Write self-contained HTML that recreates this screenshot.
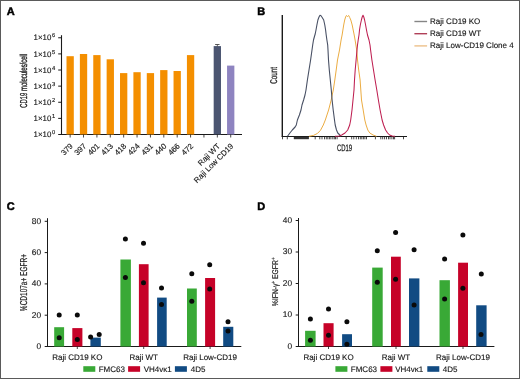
<!DOCTYPE html>
<html><head><meta charset="utf-8"><style>
html,body{margin:0;padding:0;background:#fff;}
svg{display:block;will-change:transform;}
</style></head><body>
<svg width="520" height="379" viewBox="0 0 520 379" font-family='"Liberation Sans", sans-serif' text-rendering='geometricPrecision'>
<rect x="0" y="0" width="520" height="379" fill="#fff"/>
<text x="6.8" y="14.6" font-size="11" font-weight="bold" fill="#000" stroke="#000" stroke-width="0.5">A</text>
<text x="257.2" y="14.6" font-size="11" font-weight="bold" fill="#000" stroke="#000" stroke-width="0.5">B</text>
<text x="6.8" y="210.4" font-size="11" font-weight="bold" fill="#000" stroke="#000" stroke-width="0.5">C</text>
<text x="257.2" y="210.3" font-size="11" font-weight="bold" fill="#000" stroke="#000" stroke-width="0.5">D</text>
<line x1="61.5" y1="35.2" x2="61.5" y2="134.5" stroke="#1a1a1a" stroke-width="1.1"/>
<line x1="61.0" y1="134.5" x2="242" y2="134.5" stroke="#1a1a1a" stroke-width="1"/>
<line x1="58.2" y1="134.50" x2="61.5" y2="134.50" stroke="#1a1a1a" stroke-width="1"/>
<text x="51.3" y="137.10" font-size="7.9" text-anchor="end" fill="#151515" stroke="#151515" stroke-width="0.13">1×10</text>
<text x="52" y="134.20" font-size="5.8" fill="#151515" stroke="#151515" stroke-width="0.13">0</text>
<line x1="58.2" y1="118.38" x2="61.5" y2="118.38" stroke="#1a1a1a" stroke-width="1"/>
<text x="51.3" y="120.98" font-size="7.9" text-anchor="end" fill="#151515" stroke="#151515" stroke-width="0.13">1×10</text>
<text x="52" y="118.08" font-size="5.8" fill="#151515" stroke="#151515" stroke-width="0.13">1</text>
<line x1="58.2" y1="102.26" x2="61.5" y2="102.26" stroke="#1a1a1a" stroke-width="1"/>
<text x="51.3" y="104.86" font-size="7.9" text-anchor="end" fill="#151515" stroke="#151515" stroke-width="0.13">1×10</text>
<text x="52" y="101.96" font-size="5.8" fill="#151515" stroke="#151515" stroke-width="0.13">2</text>
<line x1="58.2" y1="86.14" x2="61.5" y2="86.14" stroke="#1a1a1a" stroke-width="1"/>
<text x="51.3" y="88.74" font-size="7.9" text-anchor="end" fill="#151515" stroke="#151515" stroke-width="0.13">1×10</text>
<text x="52" y="85.84" font-size="5.8" fill="#151515" stroke="#151515" stroke-width="0.13">3</text>
<line x1="58.2" y1="70.02" x2="61.5" y2="70.02" stroke="#1a1a1a" stroke-width="1"/>
<text x="51.3" y="72.62" font-size="7.9" text-anchor="end" fill="#151515" stroke="#151515" stroke-width="0.13">1×10</text>
<text x="52" y="69.72" font-size="5.8" fill="#151515" stroke="#151515" stroke-width="0.13">4</text>
<line x1="58.2" y1="53.90" x2="61.5" y2="53.90" stroke="#1a1a1a" stroke-width="1"/>
<text x="51.3" y="56.50" font-size="7.9" text-anchor="end" fill="#151515" stroke="#151515" stroke-width="0.13">1×10</text>
<text x="52" y="53.60" font-size="5.8" fill="#151515" stroke="#151515" stroke-width="0.13">5</text>
<line x1="58.2" y1="37.78" x2="61.5" y2="37.78" stroke="#1a1a1a" stroke-width="1"/>
<text x="51.3" y="40.38" font-size="7.9" text-anchor="end" fill="#151515" stroke="#151515" stroke-width="0.13">1×10</text>
<text x="52" y="37.48" font-size="5.8" fill="#151515" stroke="#151515" stroke-width="0.13">6</text>
<rect x="66.50" y="56.2" width="7.3" height="78.30" fill="#F48F00"/>
<line x1="70.15" y1="134.5" x2="70.15" y2="137.5" stroke="#1a1a1a" stroke-width="0.8"/>
<text x="73.35" y="146.6" font-size="7.8" text-anchor="end" fill="#151515" stroke="#151515" stroke-width="0.13" transform="rotate(-45 73.35 146.6)">379</text>
<rect x="79.88" y="54" width="7.3" height="80.50" fill="#F48F00"/>
<line x1="83.53" y1="134.5" x2="83.53" y2="137.5" stroke="#1a1a1a" stroke-width="0.8"/>
<text x="86.73" y="146.6" font-size="7.8" text-anchor="end" fill="#151515" stroke="#151515" stroke-width="0.13" transform="rotate(-45 86.73 146.6)">397</text>
<rect x="93.26" y="55.1" width="7.3" height="79.40" fill="#F48F00"/>
<line x1="96.91" y1="134.5" x2="96.91" y2="137.5" stroke="#1a1a1a" stroke-width="0.8"/>
<text x="100.11" y="146.6" font-size="7.8" text-anchor="end" fill="#151515" stroke="#151515" stroke-width="0.13" transform="rotate(-45 100.11 146.6)">401</text>
<rect x="106.64" y="59.3" width="7.3" height="75.20" fill="#F48F00"/>
<line x1="110.29" y1="134.5" x2="110.29" y2="137.5" stroke="#1a1a1a" stroke-width="0.8"/>
<text x="113.49" y="146.6" font-size="7.8" text-anchor="end" fill="#151515" stroke="#151515" stroke-width="0.13" transform="rotate(-45 113.49 146.6)">413</text>
<rect x="120.02" y="73.1" width="7.3" height="61.40" fill="#F48F00"/>
<line x1="123.67" y1="134.5" x2="123.67" y2="137.5" stroke="#1a1a1a" stroke-width="0.8"/>
<text x="126.87" y="146.6" font-size="7.8" text-anchor="end" fill="#151515" stroke="#151515" stroke-width="0.13" transform="rotate(-45 126.87 146.6)">418</text>
<rect x="133.40" y="72.2" width="7.3" height="62.30" fill="#F48F00"/>
<line x1="137.05" y1="134.5" x2="137.05" y2="137.5" stroke="#1a1a1a" stroke-width="0.8"/>
<text x="140.25" y="146.6" font-size="7.8" text-anchor="end" fill="#151515" stroke="#151515" stroke-width="0.13" transform="rotate(-45 140.25 146.6)">424</text>
<rect x="146.78" y="73.1" width="7.3" height="61.40" fill="#F48F00"/>
<line x1="150.43" y1="134.5" x2="150.43" y2="137.5" stroke="#1a1a1a" stroke-width="0.8"/>
<text x="153.63" y="146.6" font-size="7.8" text-anchor="end" fill="#151515" stroke="#151515" stroke-width="0.13" transform="rotate(-45 153.63 146.6)">431</text>
<rect x="160.16" y="70.1" width="7.3" height="64.40" fill="#F48F00"/>
<line x1="163.81" y1="134.5" x2="163.81" y2="137.5" stroke="#1a1a1a" stroke-width="0.8"/>
<text x="167.01" y="146.6" font-size="7.8" text-anchor="end" fill="#151515" stroke="#151515" stroke-width="0.13" transform="rotate(-45 167.01 146.6)">440</text>
<rect x="173.54" y="71" width="7.3" height="63.50" fill="#F48F00"/>
<line x1="177.19" y1="134.5" x2="177.19" y2="137.5" stroke="#1a1a1a" stroke-width="0.8"/>
<text x="180.39" y="146.6" font-size="7.8" text-anchor="end" fill="#151515" stroke="#151515" stroke-width="0.13" transform="rotate(-45 180.39 146.6)">466</text>
<rect x="186.92" y="55.1" width="7.3" height="79.40" fill="#F48F00"/>
<line x1="190.57" y1="134.5" x2="190.57" y2="137.5" stroke="#1a1a1a" stroke-width="0.8"/>
<text x="193.77" y="146.6" font-size="7.8" text-anchor="end" fill="#151515" stroke="#151515" stroke-width="0.13" transform="rotate(-45 193.77 146.6)">472</text>
<line x1="203.95" y1="134.5" x2="203.95" y2="137.5" stroke="#1a1a1a" stroke-width="0.8"/>
<rect x="213.68" y="46.1" width="7.3" height="88.40" fill="#4B5571"/>
<line x1="217.33" y1="134.5" x2="217.33" y2="137.5" stroke="#1a1a1a" stroke-width="0.8"/>
<text x="220.53" y="146.6" font-size="7.8" text-anchor="end" fill="#151515" stroke="#151515" stroke-width="0.13" transform="rotate(-45 220.53 146.6)">Raji WT</text>
<rect x="227.06" y="65.6" width="7.3" height="68.90" fill="#8E84C0"/>
<line x1="230.71" y1="134.5" x2="230.71" y2="137.5" stroke="#1a1a1a" stroke-width="0.8"/>
<text x="233.91" y="146.6" font-size="7.8" text-anchor="end" fill="#151515" stroke="#151515" stroke-width="0.13" transform="rotate(-45 233.91 146.6)">Raji Low CD19</text>
<line x1="217.33" y1="44.5" x2="217.33" y2="46.5" stroke="#444" stroke-width="0.8"/>
<line x1="215.13" y1="44.5" x2="219.53" y2="44.5" stroke="#444" stroke-width="0.9"/>
<text transform="translate(26.8 80.8) rotate(-90) scale(0.59 1)" x="0" y="0" font-size="10" text-anchor="middle" fill="#222" stroke="#222" stroke-width="0.35">CD19 molecules/cell</text>
<line x1="282.3" y1="15" x2="282.3" y2="136.5" stroke="#1a1a1a" stroke-width="1.4"/>
<line x1="281.6" y1="136.5" x2="407" y2="136.5" stroke="#1a1a1a" stroke-width="1.2"/>
<rect x="293.8" y="136.9" width="15.1" height="2.3" fill="#333"/>
<line x1="282.5" y1="136.5" x2="282.5" y2="139.3" stroke="#1a1a1a" stroke-width="0.8"/>
<line x1="287.3" y1="136.5" x2="287.3" y2="139.3" stroke="#1a1a1a" stroke-width="0.8"/>
<line x1="315.2" y1="136.5" x2="315.2" y2="139.3" stroke="#1a1a1a" stroke-width="0.8"/>
<line x1="319.8" y1="136.5" x2="319.8" y2="139.3" stroke="#1a1a1a" stroke-width="0.8"/>
<line x1="322" y1="136.5" x2="322" y2="139.3" stroke="#1a1a1a" stroke-width="0.8"/>
<line x1="324.5" y1="136.5" x2="324.5" y2="139.3" stroke="#1a1a1a" stroke-width="0.8"/>
<line x1="326.3" y1="136.5" x2="326.3" y2="139.3" stroke="#1a1a1a" stroke-width="0.8"/>
<line x1="327.8" y1="136.5" x2="327.8" y2="139.3" stroke="#1a1a1a" stroke-width="0.8"/>
<line x1="329.4" y1="136.5" x2="329.4" y2="139.3" stroke="#1a1a1a" stroke-width="0.8"/>
<line x1="330.9" y1="136.5" x2="330.9" y2="139.3" stroke="#1a1a1a" stroke-width="0.8"/>
<line x1="332.8" y1="136.5" x2="332.8" y2="139.3" stroke="#1a1a1a" stroke-width="0.8"/>
<line x1="334.3" y1="136.5" x2="334.3" y2="139.3" stroke="#1a1a1a" stroke-width="0.8"/>
<line x1="335.5" y1="136.5" x2="335.5" y2="139.3" stroke="#1a1a1a" stroke-width="0.8"/>
<line x1="337.1" y1="136.5" x2="337.1" y2="139.3" stroke="#1a1a1a" stroke-width="0.8"/>
<line x1="346.2" y1="136.5" x2="346.2" y2="139.3" stroke="#1a1a1a" stroke-width="0.8"/>
<line x1="351.7" y1="136.5" x2="351.7" y2="139.3" stroke="#1a1a1a" stroke-width="0.8"/>
<line x1="353.8" y1="136.5" x2="353.8" y2="139.3" stroke="#1a1a1a" stroke-width="0.8"/>
<line x1="356.3" y1="136.5" x2="356.3" y2="139.3" stroke="#1a1a1a" stroke-width="0.8"/>
<line x1="358.5" y1="136.5" x2="358.5" y2="139.3" stroke="#1a1a1a" stroke-width="0.8"/>
<line x1="360.3" y1="136.5" x2="360.3" y2="139.3" stroke="#1a1a1a" stroke-width="0.8"/>
<line x1="361.8" y1="136.5" x2="361.8" y2="139.3" stroke="#1a1a1a" stroke-width="0.8"/>
<line x1="363.4" y1="136.5" x2="363.4" y2="139.3" stroke="#1a1a1a" stroke-width="0.8"/>
<line x1="364.9" y1="136.5" x2="364.9" y2="139.3" stroke="#1a1a1a" stroke-width="0.8"/>
<line x1="366.5" y1="136.5" x2="366.5" y2="139.3" stroke="#1a1a1a" stroke-width="0.8"/>
<line x1="375.4" y1="136.5" x2="375.4" y2="139.3" stroke="#1a1a1a" stroke-width="0.8"/>
<line x1="380.8" y1="136.5" x2="380.8" y2="139.3" stroke="#1a1a1a" stroke-width="0.8"/>
<line x1="382.7" y1="136.5" x2="382.7" y2="139.3" stroke="#1a1a1a" stroke-width="0.8"/>
<line x1="384.6" y1="136.5" x2="384.6" y2="139.3" stroke="#1a1a1a" stroke-width="0.8"/>
<line x1="386.5" y1="136.5" x2="386.5" y2="139.3" stroke="#1a1a1a" stroke-width="0.8"/>
<line x1="388.5" y1="136.5" x2="388.5" y2="139.3" stroke="#1a1a1a" stroke-width="0.8"/>
<line x1="390" y1="136.5" x2="390" y2="139.3" stroke="#1a1a1a" stroke-width="0.8"/>
<line x1="391.9" y1="136.5" x2="391.9" y2="139.3" stroke="#1a1a1a" stroke-width="0.8"/>
<line x1="393.5" y1="136.5" x2="393.5" y2="139.3" stroke="#1a1a1a" stroke-width="0.8"/>
<line x1="394.6" y1="136.5" x2="394.6" y2="139.3" stroke="#1a1a1a" stroke-width="0.8"/>
<line x1="403.5" y1="136.5" x2="403.5" y2="139.3" stroke="#1a1a1a" stroke-width="0.8"/>
<text transform="translate(344.5 150.8) scale(0.64 1)" x="0" y="0" font-size="9.3" text-anchor="middle" fill="#222" stroke="#222" stroke-width="0.25">CD19</text>
<text transform="translate(276.9 75.3) rotate(-90) scale(0.64 1)" x="0" y="0" font-size="9.8" text-anchor="middle" fill="#222" stroke="#222" stroke-width="0.3">Count</text>
<path d="M309,136.3 L313.5,135.4 L317.5,133.4 L320.5,130.3 L323.3,125 L325.3,120 L328.6,110 L331.2,100 L332.2,95 L333.3,90 L334.8,80 L336.2,70 L337.5,60 L339.5,50 L340.3,45 L341.1,40 L342.1,35 L342.9,30 L343.7,25 L344.7,20 L345.6,17 L346.4,15.5 L347.5,16.5 L348.7,15.5 L349.7,17.5 L350.8,20 L352.2,25 L353.2,30 L354.2,35 L355.1,40 L355.9,45 L356.7,50 L357.5,60 L358.7,70 L360.1,80 L360.8,90 L361.5,100 L363.2,110 L364.8,120 L366.1,125 L367.8,130 L369.8,133 L373.1,135 L376.4,136.3" fill="none" stroke="#EAA838" stroke-width="0.95" stroke-linejoin="round"/>
<path d="M287.5,136.3 L289.9,133 L292.3,130 L295.1,127 L296.3,125 L297.4,120 L299.4,115 L301,110 L302,105 L303.6,100 L305,95 L306,90 L307.4,80 L309,70 L310.6,60 L312,50 L312.7,45 L313.5,40 L314.6,36 L315.2,34 L316,30 L316.9,25 L317.9,20 L319,17 L320,15.3 L321,15.8 L322.2,17.5 L323.7,20 L324.8,25 L325.6,30 L326.2,35 L326.9,40 L327.7,45 L328,50 L328.5,60 L329.3,70 L330.3,80 L331.3,90 L332.1,100 L333.2,110 L334.5,120 L335.2,125 L336.5,130 L337.8,133 L339.8,135 L341,136.3" fill="none" stroke="#485064" stroke-width="1.1" stroke-linejoin="round"/>
<path d="M335,136.3 L339,136 L341.7,135 L345,133 L347.7,130 L349.7,125 L350.7,120 L352,110 L353,100 L354,90 L354.5,80 L355.2,70 L356.1,60 L357,50 L357.5,45 L358.2,40 L359,35 L359.5,30 L360.3,25 L361.4,20 L362.2,17 L363,15.3 L363.8,17 L364.6,20 L365.6,25 L366.5,30 L367.5,35 L369,40 L370,45 L370.6,50 L371.9,60 L373.5,70 L375.1,80 L376.8,90 L378.4,100 L380.1,110 L382.1,120 L383.6,125 L385.6,130 L387.6,133 L389.6,135 L392.2,136 L395,136.3" fill="none" stroke="#BE1E50" stroke-width="1.05" stroke-linejoin="round"/>
<line x1="414.4" y1="21.5" x2="427.1" y2="21.5" stroke="#858585" stroke-width="1.4"/>
<text x="430.1" y="24.0" font-size="8" fill="#151515" stroke="#151515" stroke-width="0.13">Raji CD19 KO</text>
<line x1="414.4" y1="33.7" x2="427.1" y2="33.7" stroke="#B04058" stroke-width="1.4"/>
<text x="430.1" y="36.2" font-size="8" fill="#151515" stroke="#151515" stroke-width="0.13">Raji CD19 WT</text>
<line x1="414.4" y1="45.9" x2="427.1" y2="45.9" stroke="#EDC08A" stroke-width="1.4"/>
<text x="430.1" y="48.4" font-size="8" fill="#151515" stroke="#151515" stroke-width="0.13">Raji Low-CD19 Clone 4</text>
<line x1="47.5" y1="218.2" x2="47.5" y2="346.5" stroke="#1a1a1a" stroke-width="1"/>
<line x1="47.0" y1="346.5" x2="241.3" y2="346.5" stroke="#1a1a1a" stroke-width="1"/>
<line x1="44.7" y1="346.50" x2="47.5" y2="346.50" stroke="#1a1a1a" stroke-width="1"/>
<text x="41.1" y="348.80" font-size="8.3" text-anchor="end" fill="#151515" stroke="#151515" stroke-width="0.13">0</text>
<line x1="44.7" y1="315.20" x2="47.5" y2="315.20" stroke="#1a1a1a" stroke-width="1"/>
<text x="41.1" y="317.50" font-size="8.3" text-anchor="end" fill="#151515" stroke="#151515" stroke-width="0.13">20</text>
<line x1="44.7" y1="283.90" x2="47.5" y2="283.90" stroke="#1a1a1a" stroke-width="1"/>
<text x="41.1" y="286.20" font-size="8.3" text-anchor="end" fill="#151515" stroke="#151515" stroke-width="0.13">40</text>
<line x1="44.7" y1="252.60" x2="47.5" y2="252.60" stroke="#1a1a1a" stroke-width="1"/>
<text x="41.1" y="254.90" font-size="8.3" text-anchor="end" fill="#151515" stroke="#151515" stroke-width="0.13">60</text>
<line x1="44.7" y1="221.30" x2="47.5" y2="221.30" stroke="#1a1a1a" stroke-width="1"/>
<text x="41.1" y="223.60" font-size="8.3" text-anchor="end" fill="#151515" stroke="#151515" stroke-width="0.13">80</text>
<rect x="54.2" y="327.2" width="9.90" height="19.30" fill="#39A936"/>
<rect x="72.3" y="328.1" width="10.10" height="18.40" fill="#C60228"/>
<rect x="90.4" y="337.6" width="10.40" height="8.90" fill="#114B83"/>
<rect x="120.4" y="259.5" width="10.50" height="87.00" fill="#39A936"/>
<rect x="138.9" y="264.2" width="9.70" height="82.30" fill="#C60228"/>
<rect x="157.1" y="297.6" width="9.60" height="48.90" fill="#114B83"/>
<rect x="187" y="288.5" width="9.80" height="58.00" fill="#39A936"/>
<rect x="205.1" y="278" width="10.00" height="68.50" fill="#C60228"/>
<rect x="223.2" y="326.8" width="10.10" height="19.70" fill="#114B83"/>
<circle cx="59.2" cy="314.9" r="2.5" fill="#0a0a0a"/>
<circle cx="59.2" cy="337.7" r="2.5" fill="#0a0a0a"/>
<circle cx="77.3" cy="314.9" r="2.5" fill="#0a0a0a"/>
<circle cx="77.3" cy="339.5" r="2.5" fill="#0a0a0a"/>
<circle cx="90.6" cy="337.1" r="2.5" fill="#0a0a0a"/>
<circle cx="99.2" cy="334.6" r="2.5" fill="#0a0a0a"/>
<circle cx="125.4" cy="239" r="2.5" fill="#0a0a0a"/>
<circle cx="125.4" cy="277.5" r="2.5" fill="#0a0a0a"/>
<circle cx="143.5" cy="243.2" r="2.5" fill="#0a0a0a"/>
<circle cx="143.5" cy="282.8" r="2.5" fill="#0a0a0a"/>
<circle cx="161.5" cy="288.1" r="2.5" fill="#0a0a0a"/>
<circle cx="161.5" cy="304.6" r="2.5" fill="#0a0a0a"/>
<circle cx="191.8" cy="273.7" r="2.5" fill="#0a0a0a"/>
<circle cx="191.8" cy="301.2" r="2.5" fill="#0a0a0a"/>
<circle cx="209.7" cy="264.7" r="2.5" fill="#0a0a0a"/>
<circle cx="209.7" cy="288.9" r="2.5" fill="#0a0a0a"/>
<circle cx="228" cy="321.8" r="2.5" fill="#0a0a0a"/>
<circle cx="228" cy="331" r="2.5" fill="#0a0a0a"/>
<line x1="77.3" y1="346.5" x2="77.3" y2="349.0" stroke="#1a1a1a" stroke-width="0.8"/>
<text x="77.3" y="359.6" font-size="8" text-anchor="middle" fill="#151515" stroke="#151515" stroke-width="0.13">Raji CD19 KO</text>
<line x1="143.7" y1="346.5" x2="143.7" y2="349.0" stroke="#1a1a1a" stroke-width="0.8"/>
<text x="143.7" y="359.6" font-size="8" text-anchor="middle" fill="#151515" stroke="#151515" stroke-width="0.13">Raji WT</text>
<line x1="210.1" y1="346.5" x2="210.1" y2="349.0" stroke="#1a1a1a" stroke-width="0.8"/>
<text x="210.1" y="359.6" font-size="8" text-anchor="middle" fill="#151515" stroke="#151515" stroke-width="0.13">Raji Low-CD19</text>
<text transform="translate(26.8 282.6) rotate(-90) scale(0.65 1)" x="0" y="0" font-size="10" text-anchor="middle" fill="#222" stroke="#222" stroke-width="0.2">%CD107a+ EGFR+</text>
<rect x="83.3" y="366.2" width="12" height="5.6" fill="#39A936"/>
<text x="98.7" y="371.9" font-size="8" fill="#151515" stroke="#151515" stroke-width="0.13">FMC63</text>
<rect x="128.1" y="366.2" width="12" height="5.6" fill="#C60228"/>
<text x="143.7" y="371.9" font-size="8" fill="#151515" stroke="#151515" stroke-width="0.13">VH4v&#954;1</text>
<rect x="174.9" y="366.2" width="12" height="5.6" fill="#114B83"/>
<text x="190.8" y="371.9" font-size="8" fill="#151515" stroke="#151515" stroke-width="0.13">4D5</text>
<line x1="298.5" y1="218" x2="298.5" y2="346.5" stroke="#1a1a1a" stroke-width="1"/>
<line x1="298.0" y1="346.5" x2="494.4" y2="346.5" stroke="#1a1a1a" stroke-width="1"/>
<line x1="295.7" y1="346.50" x2="298.5" y2="346.50" stroke="#1a1a1a" stroke-width="1"/>
<text x="292.1" y="348.80" font-size="8.3" text-anchor="end" fill="#151515" stroke="#151515" stroke-width="0.13">0</text>
<line x1="295.7" y1="315.00" x2="298.5" y2="315.00" stroke="#1a1a1a" stroke-width="1"/>
<text x="292.1" y="317.30" font-size="8.3" text-anchor="end" fill="#151515" stroke="#151515" stroke-width="0.13">10</text>
<line x1="295.7" y1="283.50" x2="298.5" y2="283.50" stroke="#1a1a1a" stroke-width="1"/>
<text x="292.1" y="285.80" font-size="8.3" text-anchor="end" fill="#151515" stroke="#151515" stroke-width="0.13">20</text>
<line x1="295.7" y1="252.00" x2="298.5" y2="252.00" stroke="#1a1a1a" stroke-width="1"/>
<text x="292.1" y="254.30" font-size="8.3" text-anchor="end" fill="#151515" stroke="#151515" stroke-width="0.13">30</text>
<line x1="295.7" y1="220.50" x2="298.5" y2="220.50" stroke="#1a1a1a" stroke-width="1"/>
<text x="292.1" y="222.80" font-size="8.3" text-anchor="end" fill="#151515" stroke="#151515" stroke-width="0.13">40</text>
<rect x="305.1" y="330.8" width="10.50" height="15.70" fill="#39A936"/>
<rect x="323.5" y="323.2" width="10.10" height="23.30" fill="#C60228"/>
<rect x="342.1" y="334.2" width="9.90" height="12.30" fill="#114B83"/>
<rect x="372.2" y="267.6" width="10.50" height="78.90" fill="#39A936"/>
<rect x="391" y="256.7" width="9.80" height="89.80" fill="#C60228"/>
<rect x="409" y="278.4" width="10.40" height="68.10" fill="#114B83"/>
<rect x="439.5" y="280.2" width="10.40" height="66.30" fill="#39A936"/>
<rect x="458.1" y="262.7" width="9.90" height="83.80" fill="#C60228"/>
<rect x="476.2" y="305.3" width="10.40" height="41.20" fill="#114B83"/>
<circle cx="310.4" cy="319" r="2.5" fill="#0a0a0a"/>
<circle cx="310.4" cy="340.3" r="2.5" fill="#0a0a0a"/>
<circle cx="328.5" cy="308.9" r="2.5" fill="#0a0a0a"/>
<circle cx="328.5" cy="335.2" r="2.5" fill="#0a0a0a"/>
<circle cx="346.9" cy="321.8" r="2.5" fill="#0a0a0a"/>
<circle cx="346.9" cy="344.3" r="2.5" fill="#0a0a0a"/>
<circle cx="377.3" cy="250.8" r="2.5" fill="#0a0a0a"/>
<circle cx="377.3" cy="282.2" r="2.5" fill="#0a0a0a"/>
<circle cx="395.6" cy="232.4" r="2.5" fill="#0a0a0a"/>
<circle cx="395.6" cy="279.2" r="2.5" fill="#0a0a0a"/>
<circle cx="414.1" cy="249.7" r="2.5" fill="#0a0a0a"/>
<circle cx="414.1" cy="304.9" r="2.5" fill="#0a0a0a"/>
<circle cx="444.6" cy="258.9" r="2.5" fill="#0a0a0a"/>
<circle cx="444.6" cy="298.9" r="2.5" fill="#0a0a0a"/>
<circle cx="462.9" cy="234.9" r="2.5" fill="#0a0a0a"/>
<circle cx="462.9" cy="288.2" r="2.5" fill="#0a0a0a"/>
<circle cx="481.3" cy="273.9" r="2.5" fill="#0a0a0a"/>
<circle cx="481" cy="334.4" r="2.5" fill="#0a0a0a"/>
<line x1="328.5" y1="346.5" x2="328.5" y2="349.0" stroke="#1a1a1a" stroke-width="0.8"/>
<text x="328.5" y="359.6" font-size="8" text-anchor="middle" fill="#151515" stroke="#151515" stroke-width="0.13">Raji CD19 KO</text>
<line x1="396" y1="346.5" x2="396" y2="349.0" stroke="#1a1a1a" stroke-width="0.8"/>
<text x="396" y="359.6" font-size="8" text-anchor="middle" fill="#151515" stroke="#151515" stroke-width="0.13">Raji WT</text>
<line x1="463" y1="346.5" x2="463" y2="349.0" stroke="#1a1a1a" stroke-width="0.8"/>
<text x="463" y="359.6" font-size="8" text-anchor="middle" fill="#151515" stroke="#151515" stroke-width="0.13">Raji Low-CD19</text>
<text transform="translate(277.8 281.8) rotate(-90) scale(0.82 1)" x="0" y="0" font-size="8.3" text-anchor="middle" fill="#222" stroke="#222" stroke-width="0.2">%IFN-&#947;<tspan dy="-2.9" font-size="5.5">+</tspan><tspan dy="2.9"> EGFR</tspan><tspan dy="-2.9" font-size="5.5">+</tspan></text>
<rect x="335.4" y="366.2" width="12" height="5.6" fill="#39A936"/>
<text x="350.8" y="371.9" font-size="8" fill="#151515" stroke="#151515" stroke-width="0.13">FMC63</text>
<rect x="380.4" y="366.2" width="12" height="5.6" fill="#C60228"/>
<text x="395.2" y="371.9" font-size="8" fill="#151515" stroke="#151515" stroke-width="0.13">VH4v&#954;1</text>
<rect x="427.3" y="366.2" width="12" height="5.6" fill="#114B83"/>
<text x="442.7" y="371.9" font-size="8" fill="#151515" stroke="#151515" stroke-width="0.13">4D5</text>
<rect x="0.5" y="0.5" width="519" height="378" fill="none" stroke="#5a5a5a" stroke-width="1"/>
</svg>
</body></html>
